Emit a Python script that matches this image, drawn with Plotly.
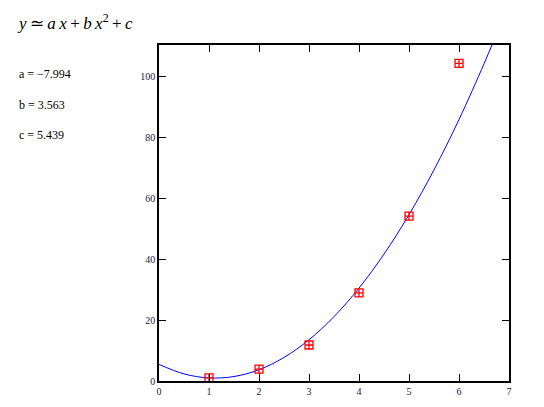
import plotly.graph_objects as go

# measured points
data_x = [1, 2, 3, 4, 5, 6]
data_y = [1, 3.9, 11.8, 28.9, 54.1, 104.2]

# fitted curve y = a x + b x^2 + c
curve_x = [0, 0.5, 1, 1.5, 2, 2.5, 3, 3.5, 4, 4.5, 5, 5.5, 6, 6.5, 6.7]
curve_y = [5.44, 2.33, 1.01, 1.47, 3.70, 7.72, 13.52, 21.11, 30.47, 41.62, 54.54, 69.25, 85.74, 104.02, 111.8]

coef_labels = ["a = \u22127.994", "b = 3.563", "c = 5.439"]

# page body has an 8px margin, so the figure is shifted by that
OFF = 8
W, H = 544 - 2 * OFF, 407 - 2 * OFF
L, T = 159 - OFF, 45 - OFF
R, B = W - (509 - OFF), H - (381 - OFF)
pw, ph = W - L - R, H - T - B


def px(x):
    return (x - OFF - L) / pw


def py(y):
    return (H - B - (y - OFF)) / ph


fig = go.Figure()
fig.add_trace(go.Scatter(x=curve_x, y=curve_y, mode="lines", line=dict(color="#0000ff", width=1, shape="spline"),
                         hoverinfo="skip"))
fig.add_trace(go.Scatter(x=data_x, y=data_y, mode="markers",
                         marker=dict(symbol="square-cross-open", size=8, color="#ff0000", line=dict(width=1.3))))

axis_style = dict(showline=True, linecolor="black", linewidth=1.5, mirror="ticks", ticks="inside", ticklen=7,
                  tickcolor="black", tickwidth=1.3, showgrid=False, zeroline=False, automargin=False,
                  tickfont=dict(family="Liberation Serif", size=10, color="#1a1a40"))

fig.update_xaxes(range=[0, 7], dtick=1, **axis_style)
fig.update_yaxes(range=[0, 110.2], dtick=20, **axis_style)

sp = "\u2009"
annotations = [dict(xref="paper", yref="paper", x=px(15), y=py(22), xanchor="left", yanchor="middle",
                    showarrow=False,
                    text="<i>y</i>" + sp + "\u2243" + sp + "<i>a" + sp + "x</i>" + sp + "+" + sp + "<i>b" + sp
                         + "x</i><sup>2</sup>" + sp + "+" + sp + "<i>c</i>",
                    font=dict(family="Liberation Serif", size=17, color="black"))]
for i, lab in enumerate(coef_labels):
    annotations.append(dict(xref="paper", yref="paper", x=px(17), y=py(74 + i * 30.5), xanchor="left",
                            yanchor="middle", showarrow=False, text=lab,
                            font=dict(family="Liberation Serif", size=12, color="black")))

fig.update_layout(width=W, height=H, margin=dict(l=L, r=R, t=T, b=B), plot_bgcolor="white", paper_bgcolor="white",
                  showlegend=False, annotations=annotations)

fig.write_html("out.html")
